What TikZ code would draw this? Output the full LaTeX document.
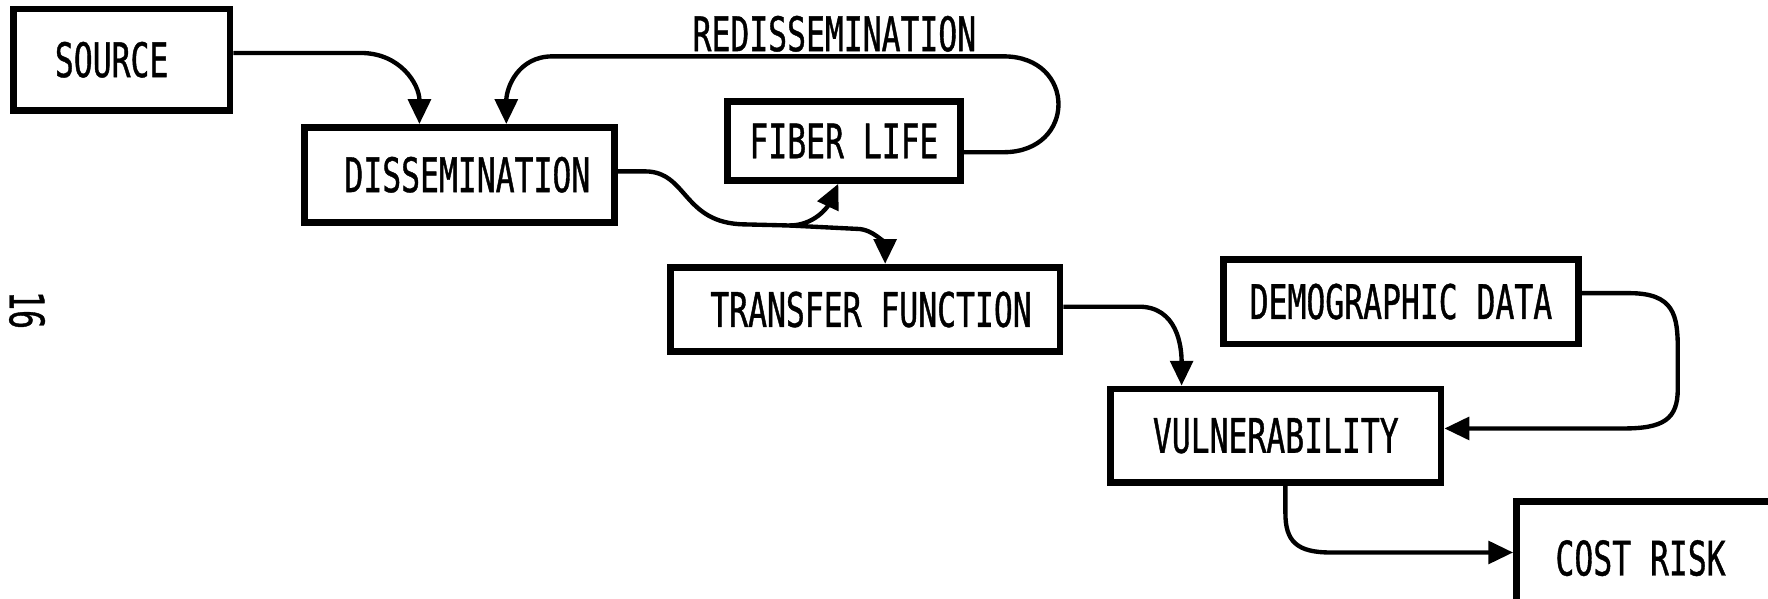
\documentclass[tikz,border=0pt]{standalone}
\usepackage{fontspec}
\newfontfamily\labfam{DejaVu Sans Mono}[FakeStretch=0.66,FakeBold=0.8]
\usetikzlibrary{arrows.meta}
\newcommand\labfont{\labfam\fontsize{12}{14}\selectfont}
\begin{document}
\begin{tikzpicture}[x=0.01cm,y=-0.01cm,
  box/.style={draw, line width=1.7pt, inner sep=0pt, font=\labfont},
  lbl/.style={inner sep=0pt, font=\labfont},
  conn/.style={line width=1.1pt, -{Triangle[length=0.22cm,width=0.2cm]}}]
\clip (0,0) rectangle (1568,531);
\fill[white] (0,0) rectangle (1568,531);
% boxes
\node[box, minimum width=1.92cm, minimum height=0.90cm] (src) at (108,53) {SOURCE\kern0.18cm};
\node[box, minimum width=2.75cm, minimum height=0.84cm] (dis) at (407.5,155) {\hspace{0.14cm}DISSEMINATION};
\node[box, minimum width=2.07cm, minimum height=0.70cm] (fib) at (748.5,125) {FIBER LIFE};
\node[box, minimum width=3.45cm, minimum height=0.75cm] (tf) at (767.5,274.5) {\hspace{0.1cm}TRANSFER FUNCTION};
\node[box, minimum width=3.15cm, minimum height=0.75cm] (dem) at (1242.5,267.5) {DEMOGRAPHIC DATA};
\node[box, minimum width=2.93cm, minimum height=0.83cm] (vul) at (1131.5,386.5) {VULNERABILITY};
\node[box, minimum width=2.40cm, minimum height=1.00cm] (cost) at (1465,495) {COST RISK\kern0.2cm};
\node[lbl] (redis) at (740,30) {REDISSEMINATION};
\node[lbl, rotate=-90] (pg) at (24,275) {16};
% connectors
\coordinate (a1) at (320,47);
\draw[conn] ([yshift=0.06cm]src.east) -- (a1) to[out=0,in=90,looseness=1.1] ([xshift=1.05cm]dis.north west);
\coordinate (r1) at (890,135);
\coordinate (r2) at (890,50);
\coordinate (r3) at (490,50);
\draw[conn] ([yshift=-0.10cm]fib.east) -- (r1) .. controls (955,135) and (955,50) .. (r2) -- (r3) to[out=180,in=90,looseness=1.1] ([xshift=1.82cm]dis.north west);
\coordinate (d1) at (572,152);
\coordinate (j) at (700,200);
\coordinate (d2) at (760,203);
\draw[line width=1.1pt] ([yshift=0.03cm]dis.east) -- (d1) .. controls (610,152) and (605,198) .. (660,199) -- (j);
\draw[conn] (j) to[out=0,in=-115] ([xshift=-0.05cm]fib.south);
\draw[conn] (j) -- (d2) to[out=0,in=90] ([xshift=0.175cm]tf.north);
\coordinate (t1) at (1010,272);
\draw[conn] ([yshift=0.025cm]tf.east) -- (t1) to[out=0,in=90,looseness=1.1] ([xshift=-0.835cm]vul.north);
\coordinate (m1) at (1445,260);
\coordinate (m2) at (1488,345);
\coordinate (m3) at (1440,380);
\draw[conn] ([yshift=0.075cm]dem.east) -- (m1) .. controls (1485,260) and (1488,280) .. (1488,310) -- (m2) .. controls (1488,372) and (1475,380) .. (m3) -- ([yshift=0.065cm]vul.east);
\coordinate (v1) at (1140,455);
\coordinate (v2) at (1180,490);
\draw[conn] ([xshift=0.085cm]vul.south) -- (v1) .. controls (1140,480) and (1150,490) .. (v2) -- ([yshift=0.05cm]cost.west);
\end{tikzpicture}
\end{document}
